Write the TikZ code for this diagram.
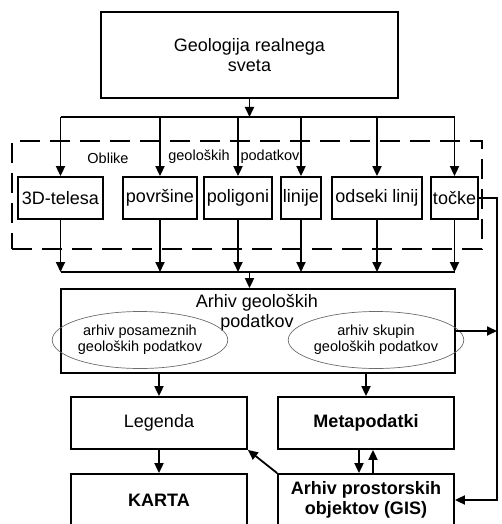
\documentclass[tikz,border=0pt]{standalone}
\usepackage{fontspec}
\setmainfont{Liberation Sans}
\usetikzlibrary{arrows.meta, shapes.geometric, positioning}

\begin{document}
\begin{tikzpicture}[x=1pt, y=-1pt, line width=1.8pt,
    txt/.style={align=center, inner sep=0pt, font=\fontsize{18}{20}\selectfont},
    box/.style={txt, draw},
    bbox/.style={box, font=\fontsize{18}{20}\selectfont\bfseries, minimum width=176pt, minimum height=52pt},
    form/.style={box, minimum height=42pt},
    note/.style={inner sep=0pt, font=\fontsize{14.5}{16}\selectfont},
    oval/.style={note, draw=gray!85!black, line width=0.7pt, ellipse, align=center, minimum width=152pt, minimum height=57pt},
    >={Triangle[length=10pt, width=9pt]}]
  \useasboundingbox (0,0) rectangle (502,524);
  \clip (0,0) rectangle (502,524);
  % realni svet
  \node[box, minimum width=297pt, minimum height=86pt] (svet) at (249.5,55) {Geologija realnega\\sveta};
  % oblike podatkov
  \node[draw, dashed, dash pattern=on 20pt off 10pt, minimum width=470pt, minimum height=108pt] (okvir) at (247,195) {};
  \node[note] (oblike) at (108,158) {Oblike};
  \node[note] (geol) at (199,157) {geoloških};
  \node[note] (podat) at (270,157) {podatkov};
  \node[form, minimum width=85pt] (tel) at (60.5,198) {3D-telesa};
  \node[form, minimum width=74pt] (pov) at (160,198) {površine};
  \node[form, minimum width=68pt] (pol) at (238,198) {poligoni};
  \node[form, minimum width=40pt] (lin) at (301,198) {linije};
  \node[form, minimum width=90pt] (ods) at (377,198) {odseki linij};
  \node[form, minimum width=47pt] (toc) at (454.5,198) {točke};
  \coordinate (bus1) at (249.5,117);
  \coordinate (bus2) at (249.5,272);
  \draw[->] (svet.south) -- (bus1);
  \draw (tel.north |- bus1) -- (toc.north |- bus1);
  \draw (tel.south |- bus2) -- (toc.south |- bus2);
  \foreach \n in {tel,pov,pol,lin,ods,toc} {
    \draw[->] (\n.north |- bus1) -- (\n.north);
    \draw[->] (\n.south) -- (\n.south |- bus2);
  }
  % arhiv
  \node[box, minimum width=394pt, minimum height=84pt] (arhiv) at (258,331) {};
  \node[txt] (arhivtxt) at (257,313) {Arhiv geoloških\\podatkov};
  \node[oval] (posam) at (140,340) {arhiv posameznih\\geoloških podatkov};
  \node[oval] (skup) at (376,340) {arhiv skupin\\geoloških podatkov};
  \draw[->] (bus2) -- (bus2 |- arhiv.north);
  % izdelki
  \node[box, minimum width=176pt, minimum height=52pt] (leg) at (159,423) {Legenda};
  \node[bbox] (meta) at (366,423) {Metapodatki};
  \node[bbox] (karta) at (159,500) {KARTA};
  \node[bbox] (gis) at (366,500) {Arhiv prostorskih\\objektov (GIS)};
  \coordinate (rail) at (497,198);
  \draw[->] (toc.east) -- (rail) |- (gis.east);
  \draw[->] (arhiv.east) -- (arhiv.east -| rail);
  \draw[->] (arhiv.south -| leg.north) -- (leg.north);
  \draw[->] (arhiv.south -| meta.north) -- (meta.north);
  \draw[->] (leg) -- (karta);
  \draw[->] ([xshift=-7pt]meta.south) -- ([xshift=-7pt]gis.north);
  \draw[->] ([xshift=7pt]gis.north) -- ([xshift=7pt]meta.south);
  \draw[->] (gis.north west) -- (leg.south east);
\end{tikzpicture}
\end{document}
